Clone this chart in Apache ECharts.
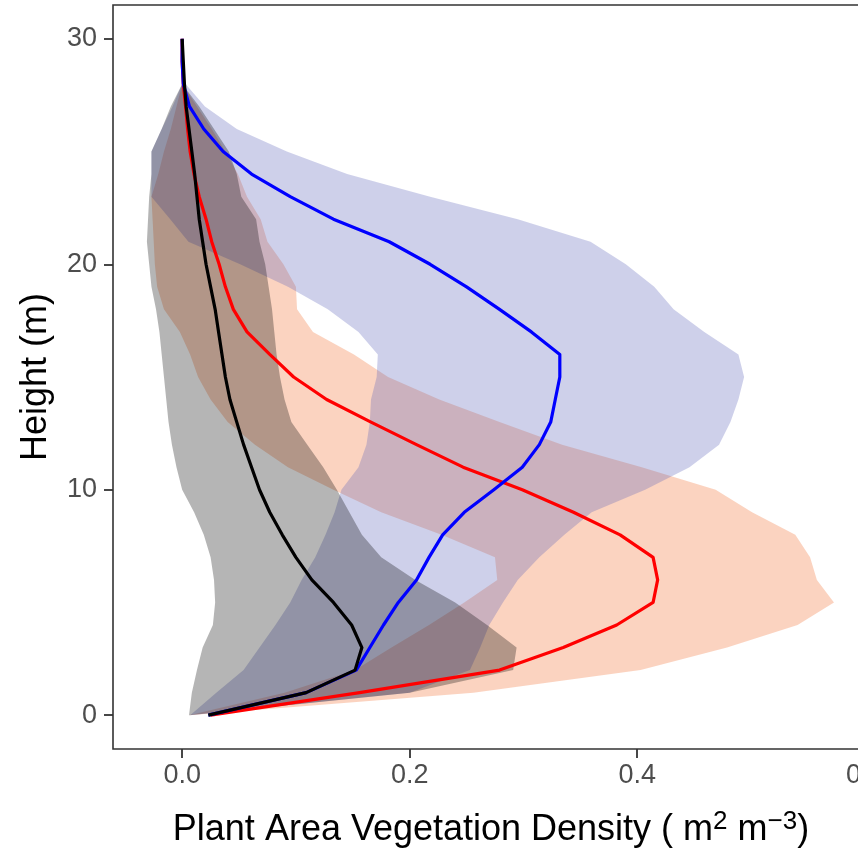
<!DOCTYPE html>
<html>
<head>
<meta charset="utf-8">
<script src="https://cdn.jsdelivr.net/npm/echarts@6/dist/echarts.min.js"></script>
<style>
  html, body { margin: 0; padding: 0; background: #ffffff; }
  #chart { width: 858px; height: 848px; }
</style>
</head>
<body>
<div id="chart"></div>
<script>
// Heights (m) of the mean profiles
const heights = [0,1,2,3,4,5,6,7,8,9,10,11,12,13,14,15,16,17,18,19,20,21,22,23,24,25,26,27,28,29,30];

// Mean plant area density profiles (m2 m-3)
const blackProfile = [0.023,0.109,0.152,0.158,0.149,0.133,0.114,0.100,0.088,0.077,0.068,0.061,0.054,0.048,0.042,0.038,0.035,0.032,0.029,0.025,0.021,0.018,0.015,0.013,0.011,0.0085,0.006,0.0035,0.002,0.001,0.0];
const blueProfile  = [0.023,0.109,0.153,0.165,0.177,0.190,0.206,0.217,0.229,0.248,0.274,0.299,0.314,0.324,0.328,0.332,0.332,0.307,0.279,0.250,0.218,0.182,0.133,0.095,0.061,0.036,0.019,0.0064,0.001,0.0,0.0];
const redProfile   = [0.025,0.156,0.279,0.335,0.382,0.414,0.418,0.414,0.385,0.344,0.299,0.247,0.206,0.166,0.127,0.098,0.077,0.057,0.045,0.038,0.0325,0.026,0.021,0.015,0.0104,0.007,0.0048,0.003,0.001,0.0,0.0];

// Heights of the variability bands
const bandHeights = [0,1,2,3,4,5,6,7,8,9,10,11,12,13,14,15,16,17,18,19,20,21,22,23,24,25,26,27,28];

const greyLower   = [0.006,0.0085,0.013,0.018,0.027,0.029,0.028,0.025,0.019,0.0105,0.000,-0.005,-0.009,-0.012,-0.014,-0.016,-0.018,-0.020,-0.023,-0.027,-0.029,-0.031,-0.030,-0.029,-0.027,-0.027,-0.018,-0.010,0.0];
const greyUpper   = [0.006,0.200,0.291,0.294,0.268,0.240,0.205,0.175,0.158,0.147,0.136,0.124,0.110,0.096,0.090,0.086,0.083,0.081,0.079,0.076,0.073,0.068,0.065,0.052,0.048,0.041,0.028,0.015,0.0];

const blueLower   = [0.007,0.030,0.054,0.068,0.082,0.095,0.105,0.117,0.126,0.134,0.140,0.155,0.162,0.165,0.166,0.171,0.172,0.155,0.128,0.093,0.051,0.0055,-0.0105,-0.027,-0.027,-0.027,-0.018,-0.0085,0.0];
const blueUpper   = [0.007,0.200,0.253,0.262,0.270,0.282,0.295,0.314,0.336,0.360,0.407,0.446,0.472,0.482,0.489,0.494,0.489,0.459,0.432,0.415,0.390,0.359,0.295,0.218,0.145,0.092,0.048,0.020,0.003];

const orangeLower = [0.006,0.090,0.152,0.184,0.217,0.248,0.277,0.275,0.228,0.175,0.133,0.093,0.064,0.040,0.025,0.014,0.007,-0.002,-0.016,-0.022,-0.024,-0.025,-0.026,-0.027,-0.021,-0.016,-0.010,-0.005,0.0];
const orangeUpper = [0.006,0.256,0.403,0.479,0.541,0.573,0.558,0.552,0.539,0.501,0.469,0.404,0.334,0.279,0.226,0.181,0.151,0.115,0.101,0.100,0.089,0.075,0.069,0.057,0.049,0.038,0.026,0.013,0.0];

// Axis tick values
const xTicks = [0, 0.2, 0.4, 0.6];
const yTicks = [0, 10, 20, 30];

const FONT = '"Liberation Sans", Arial, Helvetica, sans-serif';

// A band drawn as one closed polygon: up the lower edge, back down the upper edge
function bandSeries(name, lower, upper, fill, z) {
  const rows = bandHeights.map((h, i) => [lower[i], upper[i], h]);
  return {
    type: 'custom',
    name: name,
    data: rows,
    encode: { x: [0, 1], y: 2 },
    silent: true,
    z: z,
    clip: true,
    renderItem: function (params, api) {
      if (params.dataIndex !== 0) return null;
      const pts = [];
      for (let i = 0; i < rows.length; i++) pts.push(api.coord([rows[i][0], rows[i][2]]));
      for (let i = rows.length - 1; i >= 0; i--) pts.push(api.coord([rows[i][1], rows[i][2]]));
      return { type: 'polygon', shape: { points: pts }, style: { fill: fill } };
    }
  };
}

function profileSeries(name, values, color, z) {
  return {
    type: 'line',
    name: name,
    data: heights.map((h, i) => [values[i], h]),
    showSymbol: false,
    symbol: 'none',
    silent: true,
    z: z,
    lineStyle: { color: color, width: 3.2, join: 'round', cap: 'butt' },
    clip: true
  };
}

const chart = echarts.init(document.getElementById('chart'), null, { renderer: 'canvas', width: 858, height: 848 });

chart.setOption({
  animation: false,
  backgroundColor: '#ffffff',
  grid: {
    show: true,
    left: 113,
    top: 5,
    width: 756,
    height: 744,
    containLabel: false,
    outerBoundsMode: 'none',
    borderColor: '#333333',
    borderWidth: 1.6,
    backgroundColor: 'transparent'
  },
  xAxis: {
    type: 'value',
    min: -0.0608,
    max: 0.6038,
    splitLine: { show: false },
    axisLine: { show: false, onZero: false },
    axisTick: { show: true, length: 9, customValues: xTicks, lineStyle: { color: '#333333', width: 1.8 } },
    axisLabel: {
      customValues: xTicks,
      formatter: v => v.toFixed(1),
      color: '#4d4d4d',
      fontSize: 27,
      fontFamily: FONT,
      margin: 13
    },
    name: '{t|Plant Area Vegetation Density ( m}{s|2}{t| m}{s|\u22123}{t|)}',
    nameLocation: 'middle',
    nameGap: 60,
    nameTextStyle: {
      color: '#000000',
      fontFamily: FONT,
      rich: {
        t: { fontSize: 36, fontFamily: FONT, color: '#000000', lineHeight: 43 },
        s: { fontSize: 26, fontFamily: FONT, color: '#000000', verticalAlign: 'top', lineHeight: 29 }
      }
    }
  },
  yAxis: {
    type: 'value',
    min: -1.5,
    max: 31.5,
    splitLine: { show: false },
    axisLine: { show: false, onZero: false },
    axisTick: { show: true, length: 9, customValues: yTicks, lineStyle: { color: '#333333', width: 1.8 } },
    axisLabel: {
      customValues: yTicks,
      color: '#4d4d4d',
      fontSize: 27,
      fontFamily: FONT,
      margin: 16
    },
    name: 'Height (m)',
    nameLocation: 'middle',
    nameRotate: 90,
    nameGap: 59,
    nameTextStyle: { color: '#000000', fontSize: 36, fontFamily: FONT }
  },
  series: [
    bandSeries('orange band', orangeLower, orangeUpper, 'rgba(242,108,48,0.30)', 1),
    bandSeries('blue band', blueLower, blueUpper, 'rgba(92,98,185,0.30)', 2),
    bandSeries('grey band', greyLower, greyUpper, 'rgba(0,0,0,0.29)', 3),
    profileSeries('red profile', redProfile, '#ff0000', 10),
    profileSeries('blue profile', blueProfile, '#0000ff', 11),
    profileSeries('black profile', blackProfile, '#000000', 12)
  ]
});
</script>
</body>
</html>
